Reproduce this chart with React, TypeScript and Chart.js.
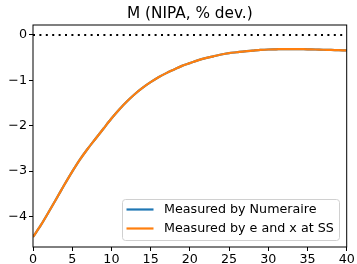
import React, { useEffect, useRef } from "react";
import { Chart, registerables } from "chart.js";
Chart.register(...registerables);

const chartTitle = "M (NIPA, % dev.)";
const periods = [0, 1, 2, 3, 4, 5, 6, 7, 8, 9, 10, 11, 12, 13, 14, 15, 16, 17, 18, 19, 20, 21, 22, 23, 24, 25, 26, 27, 28, 29, 30, 31, 32, 33, 34, 35, 36, 37, 38, 39, 40];
const numeraire = [-4.45, -4.19, -3.9, -3.6, -3.3, -3.01, -2.74, -2.5, -2.28, -2.06, -1.84, -1.64, -1.46, -1.3, -1.16, -1.04, -0.93, -0.84, -0.76, -0.68, -0.62, -0.56, -0.51, -0.47, -0.43, -0.4, -0.38, -0.36, -0.345, -0.33, -0.32, -0.315, -0.31, -0.31, -0.312, -0.315, -0.32, -0.325, -0.33, -0.335, -0.34];
const eAndXAtSS = [-4.45, -4.19, -3.9, -3.6, -3.3, -3.01, -2.74, -2.5, -2.28, -2.06, -1.84, -1.64, -1.46, -1.3, -1.16, -1.04, -0.93, -0.84, -0.76, -0.68, -0.62, -0.56, -0.51, -0.47, -0.43, -0.4, -0.38, -0.36, -0.345, -0.33, -0.32, -0.315, -0.31, -0.31, -0.312, -0.315, -0.32, -0.325, -0.33, -0.335, -0.34];
const zeroX = [0, 40];
const zeroY = [0, 0];
const seriesLabels = ["Measured by Numeraire", "Measured by e and x at SS"];
const seriesColors = ["#1f77b4", "#ff7f0e"];
const xTicks = [0, 5, 10, 15, 20, 25, 30, 35, 40];
const yTicks = [-4, -3, -2, -1, 0];
const xMin = 0;
const xMax = 40;
const yMin = -4.67;
const yMax = 0.22;

const FONT = "'DejaVu Sans', sans-serif";
const TICK_SIZE = 12.7;
const TITLE_SIZE = 15.3;

const framePlugin = {
  id: "frameAndLegend",
  afterDraw(chart: any) {
    const { ctx, chartArea: a } = chart;
    ctx.save();
    ctx.strokeStyle = "#000";
    ctx.lineWidth = 1;
    ctx.strokeRect(a.left, a.top, a.right - a.left, a.bottom - a.top);

    // legend (lower right)
    const bx = 122.5, by = 199.5, bw = 217, bh = 41, r = 3;
    ctx.beginPath();
    ctx.moveTo(bx + r, by);
    ctx.lineTo(bx + bw - r, by);
    ctx.quadraticCurveTo(bx + bw, by, bx + bw, by + r);
    ctx.lineTo(bx + bw, by + bh - r);
    ctx.quadraticCurveTo(bx + bw, by + bh, bx + bw - r, by + bh);
    ctx.lineTo(bx + r, by + bh);
    ctx.quadraticCurveTo(bx, by + bh, bx, by + bh - r);
    ctx.lineTo(bx, by + r);
    ctx.quadraticCurveTo(bx, by, bx + r, by);
    ctx.closePath();
    ctx.fillStyle = "rgba(255,255,255,0.8)";
    ctx.fill();
    ctx.strokeStyle = "#d0d0d0";
    ctx.stroke();

    const rows = [209.5, 228.5];
    seriesLabels.forEach((lab, i) => {
      ctx.strokeStyle = seriesColors[i];
      ctx.lineWidth = 2.2;
      ctx.beginPath();
      ctx.moveTo(126.5, rows[i]);
      ctx.lineTo(153.5, rows[i]);
      ctx.stroke();
      ctx.fillStyle = "#000";
      ctx.font = TICK_SIZE + "px " + FONT;
      ctx.textBaseline = "middle";
      ctx.textAlign = "left";
      ctx.fillText(lab, 164, rows[i] + 0.5);
    });
    ctx.restore();
  },
};

export default function App() {
  const ref = useRef<HTMLCanvasElement>(null);
  useEffect(() => {
    document.body.style.margin = "0";
    const toPts = (ys: number[]) => periods.map((t, i) => ({ x: t, y: ys[i] }));
    const chart = new Chart(ref.current!, {
      type: "line",
      data: {
        datasets: [
          {
            label: seriesLabels[0],
            data: toPts(numeraire),
            borderColor: seriesColors[0],
            borderWidth: 2.2,
            pointRadius: 0,
            tension: 0.3,
            order: 2,
          },
          {
            label: seriesLabels[1],
            data: toPts(eAndXAtSS),
            borderColor: seriesColors[1],
            borderWidth: 2.2,
            pointRadius: 0,
            tension: 0.3,
            order: 1,
          },
          {
            label: "zero",
            data: zeroX.map((x, i) => ({ x, y: zeroY[i] })),
            borderColor: "#000",
            borderWidth: 2,
            borderDash: [2, 4.4],
            pointRadius: 0,
            order: 0,
          },
        ],
      },
      options: {
        animation: false,
        responsive: true,
        maintainAspectRatio: false,
        layout: { padding: { left: 0, right: 10.3, top: 0, bottom: 0 } },
        plugins: {
          legend: { display: false },
          tooltip: { enabled: false },
          title: {
            display: true,
            text: chartTitle,
            fullSize: false,
            color: "#000",
            font: { family: FONT, size: TITLE_SIZE, weight: "normal", lineHeight: 1.2 },
            padding: { top: 4.5, bottom: 2.14 },
          },
        },
        scales: {
          x: {
            type: "linear",
            min: xMin,
            max: xMax,
            afterBuildTicks: (s: any) => {
              s.ticks = xTicks.map((v) => ({ value: v }));
            },
            afterFit: (s: any) => {
              s.height = 17;
            },
            grid: { drawOnChartArea: false, drawTicks: true, tickLength: 4, color: "#000" },
            border: { display: false },
            ticks: {
              color: "#000",
              font: { family: FONT, size: TICK_SIZE },
              padding: 1,
              maxRotation: 0,
              autoSkip: false,
              callback: (v: any) => String(v),
            },
          },
          y: {
            type: "linear",
            min: yMin,
            max: yMax,
            afterBuildTicks: (s: any) => {
              s.ticks = yTicks.map((v) => ({ value: v }));
            },
            afterFit: (s: any) => {
              s.width = 33;
            },
            grid: { drawOnChartArea: false, drawTicks: true, tickLength: 4, color: "#000" },
            border: { display: false },
            ticks: {
              color: "#000",
              font: { family: FONT, size: TICK_SIZE },
              padding: 2,
              autoSkip: false,
              callback: (v: any) => String(v).replace("-", "\u2212"),
            },
          },
        },
      },
      plugins: [framePlugin],
    });
    return () => chart.destroy();
  }, []);
  return (
    <div style={{ position: "absolute", left: 0, top: 0, width: 357, height: 264 }}>
      <canvas ref={ref} />
    </div>
  );
}
